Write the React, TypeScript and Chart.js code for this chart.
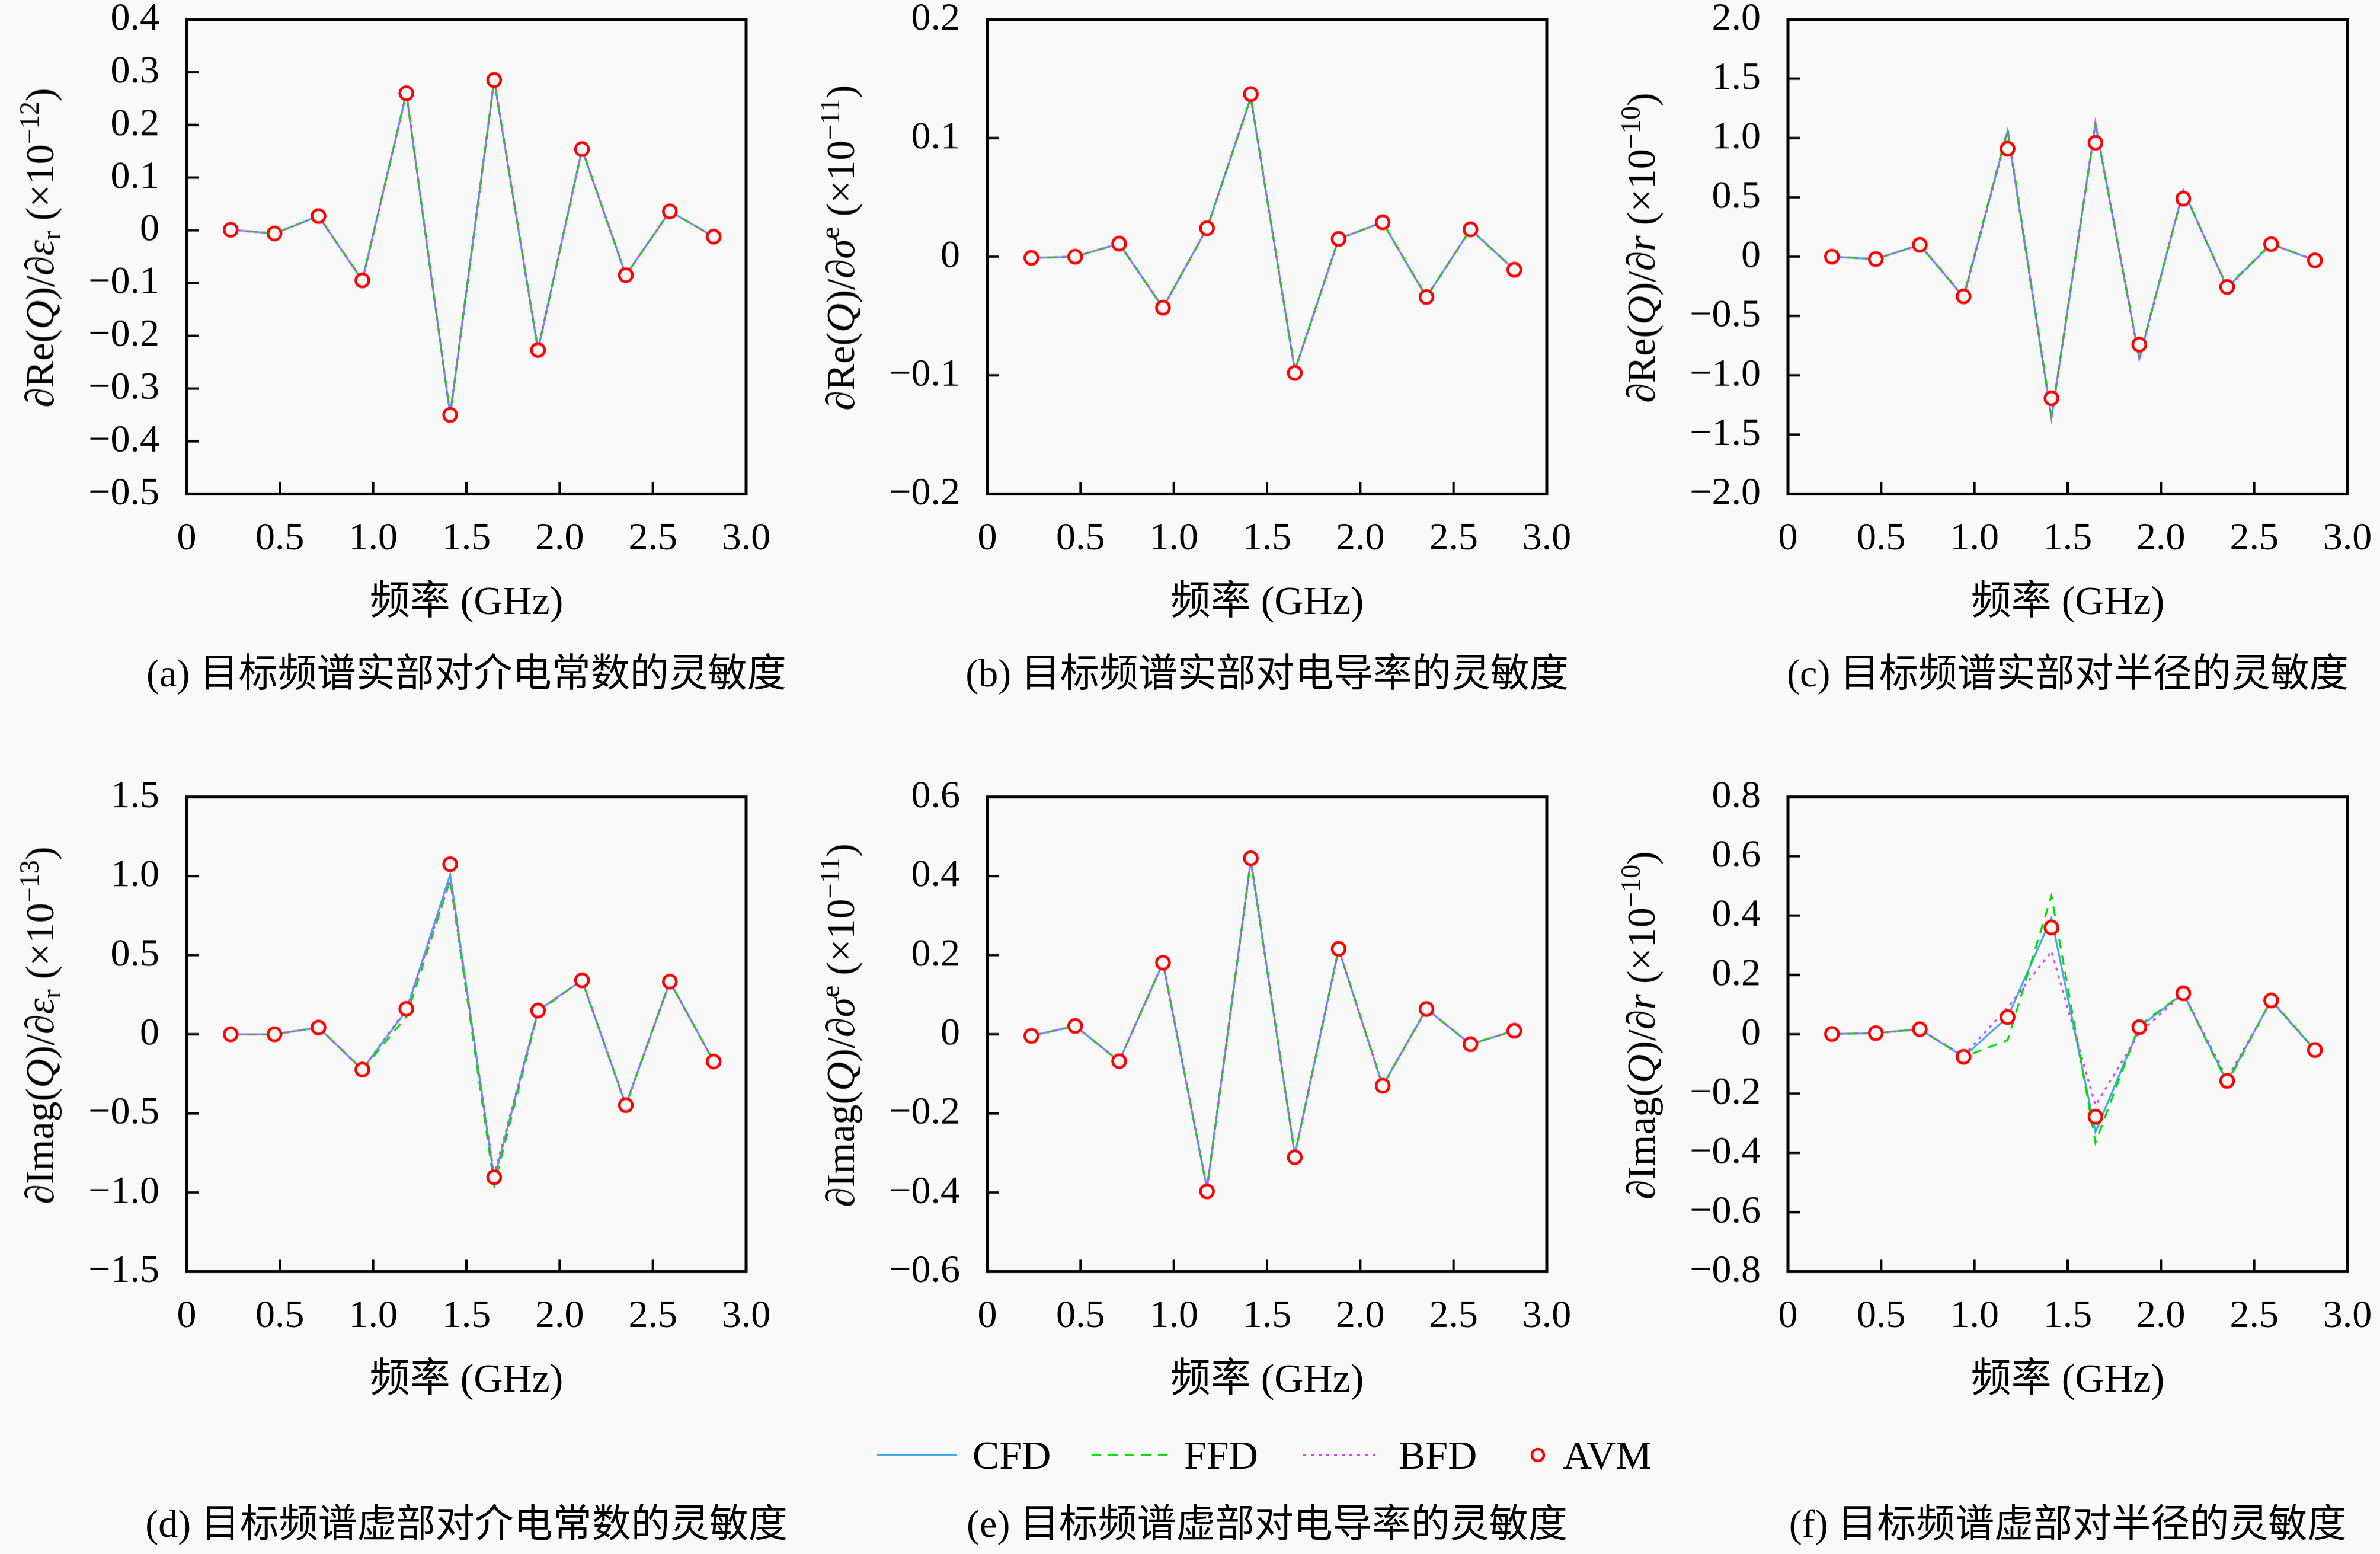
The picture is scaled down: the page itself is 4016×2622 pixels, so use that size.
import React, { useEffect, useRef } from "react";
import { Chart, registerables } from "chart.js";

Chart.register(...registerables);

// ---------------- data ----------------
const FREQ = [0.236, 0.471, 0.707, 0.942, 1.178, 1.413, 1.649, 1.884, 2.12, 2.355, 2.591, 2.826];
const X_TICKS = [0, 0.5, 1.0, 1.5, 2.0, 2.5, 3.0];

// (a) dRe(Q)/d eps_r  (x1e-12)
const A_CFD = [0.001, -0.006, 0.027, -0.095, 0.26, -0.35, 0.285, -0.227, 0.154, -0.085, 0.036, -0.012];
const A_FFD = [0.001, -0.006, 0.027, -0.095, 0.26, -0.35, 0.285, -0.227, 0.154, -0.085, 0.036, -0.012];
const A_BFD = [0.001, -0.006, 0.027, -0.095, 0.26, -0.35, 0.285, -0.227, 0.154, -0.085, 0.036, -0.012];
const A_AVM = [0.001, -0.006, 0.027, -0.095, 0.26, -0.35, 0.285, -0.227, 0.154, -0.085, 0.036, -0.012];
const A_YTICKS = [-0.5, -0.4, -0.3, -0.2, -0.1, 0, 0.1, 0.2, 0.3, 0.4];

// (b) dRe(Q)/d sigma_e  (x1e-11)
const B_CFD = [-0.001, 0.0, 0.011, -0.043, 0.024, 0.134, -0.096, 0.015, 0.029, -0.034, 0.023, -0.011];
const B_FFD = [-0.001, 0.0, 0.011, -0.043, 0.024, 0.134, -0.096, 0.015, 0.029, -0.034, 0.023, -0.011];
const B_BFD = [-0.001, 0.0, 0.011, -0.043, 0.024, 0.134, -0.096, 0.015, 0.029, -0.034, 0.023, -0.011];
const B_AVM = [-0.001, 0.0, 0.011, -0.043, 0.024, 0.137, -0.098, 0.015, 0.029, -0.034, 0.023, -0.011];
const B_YTICKS = [-0.2, -0.1, 0, 0.1, 0.2];

// (c) dRe(Q)/dr  (x1e-10)
const C_CFD = [0.0, -0.02, 0.1, -0.34, 1.06, -1.36, 1.12, -0.86, 0.56, -0.26, 0.106, -0.031];
const C_FFD = [0.0, -0.02, 0.1, -0.335, 1.075, -1.35, 1.11, -0.85, 0.555, -0.255, 0.11, -0.031];
const C_BFD = [0.0, -0.02, 0.1, -0.345, 1.05, -1.37, 1.13, -0.87, 0.565, -0.265, 0.105, -0.031];
const C_AVM = [0.0, -0.02, 0.1, -0.335, 0.91, -1.193, 0.961, -0.741, 0.489, -0.255, 0.106, -0.031];
const C_YTICKS = [-2.0, -1.5, -1.0, -0.5, 0, 0.5, 1.0, 1.5, 2.0];

// (d) dImag(Q)/d eps_r  (x1e-13)
const D_CFD = [0.0, 0.0, 0.043, -0.223, 0.15, 1.01, -0.915, 0.15, 0.341, -0.448, 0.333, -0.172];
const D_FFD = [0.0, 0.0, 0.043, -0.223, 0.11, 0.975, -0.955, 0.14, 0.345, -0.45, 0.335, -0.172];
const D_BFD = [0.0, 0.0, 0.043, -0.223, 0.16, 0.97, -0.89, 0.15, 0.34, -0.445, 0.33, -0.172];
const D_AVM = [0.0, 0.0, 0.043, -0.223, 0.161, 1.075, -0.903, 0.15, 0.341, -0.448, 0.333, -0.172];
const D_YTICKS = [-1.5, -1.0, -0.5, 0, 0.5, 1.0, 1.5];

// (e) dImag(Q)/d sigma_e  (x1e-11)
const E_CFD = [-0.004, 0.021, -0.068, 0.181, -0.39, 0.44, -0.305, 0.216, -0.13, 0.064, -0.025, 0.009];
const E_FFD = [-0.004, 0.021, -0.068, 0.181, -0.39, 0.44, -0.305, 0.216, -0.13, 0.064, -0.025, 0.009];
const E_BFD = [-0.004, 0.021, -0.068, 0.181, -0.39, 0.44, -0.305, 0.216, -0.13, 0.064, -0.025, 0.009];
const E_AVM = [-0.004, 0.021, -0.068, 0.181, -0.397, 0.445, -0.311, 0.216, -0.13, 0.064, -0.025, 0.009];
const E_YTICKS = [-0.6, -0.4, -0.2, 0, 0.2, 0.4, 0.6];

// (f) dImag(Q)/dr  (x1e-10)
const F_CFD = [0.001, 0.004, 0.017, -0.076, 0.058, 0.392, -0.329, 0.024, 0.138, -0.16, 0.114, -0.053];
const F_FFD = [0.001, 0.004, 0.017, -0.076, -0.02, 0.467, -0.365, 0.03, 0.138, -0.165, 0.116, -0.053];
const F_BFD = [0.001, 0.004, 0.017, -0.072, 0.09, 0.28, -0.24, 0.005, 0.138, -0.15, 0.112, -0.053];
const F_AVM = [0.001, 0.004, 0.017, -0.076, 0.058, 0.36, -0.278, 0.024, 0.138, -0.157, 0.114, -0.053];
const F_YTICKS = [-0.8, -0.6, -0.4, -0.2, 0, 0.2, 0.4, 0.6, 0.8];

const SERIES_NAMES = ["CFD", "FFD", "BFD", "AVM"];
const X_TITLE = "频率 (GHz)";
const CAPTIONS = [
  "(a) 目标频谱实部对介电常数的灵敏度",
  "(b) 目标频谱实部对电导率的灵敏度",
  "(c) 目标频谱实部对半径的灵敏度",
  "(d) 目标频谱虚部对介电常数的灵敏度",
  "(e) 目标频谱虚部对电导率的灵敏度",
  "(f) 目标频谱虚部对半径的灵敏度",
];

// ---------------- styles ----------------
const BG = "#f9f9f9";
const FONT = '"Liberation Serif", "Noto Sans CJK SC", serif';
const C_BLUE = "#3fa9f0";
const C_GREEN = "#00e000";
const C_MAGENTA = "#e040f0";
const C_RED = "#ff0000";

const PLOT_L0 = 315;
const COL_STEP = 1351;
const PLOT_W = 944;
const PLOT_T0 = 33;
const ROW_STEP = 1312;
const PLOT_H = 800;
const PAD_L = 240;
const PAD_T = 60;
const PAD_R = 80;
const PAD_B = 130;

const sup = (s: string) => (
  <span style={{ fontSize: "0.68em", verticalAlign: "0.55em", lineHeight: 0 }}>{s}</span>
);
const sub = (s: string) => (
  <span style={{ fontSize: "0.68em", verticalAlign: "-0.25em", lineHeight: 0 }}>{s}</span>
);
const it = (s: string) => <i>{s}</i>;

const Y_TITLES = [
  <>∂Re({it("Q")})/∂{it("ε")}{sub("r")} (×10{sup("−12")})</>,
  <>∂Re({it("Q")})/∂{it("σ")}{sup("e")} (×10{sup("−11")})</>,
  <>∂Re({it("Q")})/∂{it("r")} (×10{sup("−10")})</>,
  <>∂Imag({it("Q")})/∂{it("ε")}{sub("r")} (×10{sup("−13")})</>,
  <>∂Imag({it("Q")})/∂{it("σ")}{sup("e")} (×10{sup("−11")})</>,
  <>∂Imag({it("Q")})/∂{it("r")} (×10{sup("−10")})</>,
];

type PanelCfg = {
  col: number;
  row: number;
  yTicks: number[];
  cfd: number[];
  ffd: number[];
  bfd: number[];
  avm: number[];
};

const PANELS: PanelCfg[] = [
  { col: 0, row: 0, yTicks: A_YTICKS, cfd: A_CFD, ffd: A_FFD, bfd: A_BFD, avm: A_AVM },
  { col: 1, row: 0, yTicks: B_YTICKS, cfd: B_CFD, ffd: B_FFD, bfd: B_BFD, avm: B_AVM },
  { col: 2, row: 0, yTicks: C_YTICKS, cfd: C_CFD, ffd: C_FFD, bfd: C_BFD, avm: C_AVM },
  { col: 0, row: 1, yTicks: D_YTICKS, cfd: D_CFD, ffd: D_FFD, bfd: D_BFD, avm: D_AVM },
  { col: 1, row: 1, yTicks: E_YTICKS, cfd: E_CFD, ffd: E_FFD, bfd: E_BFD, avm: E_AVM },
  { col: 2, row: 1, yTicks: F_YTICKS, cfd: F_CFD, ffd: F_FFD, bfd: F_BFD, avm: F_AVM },
];

const fmt = (v: number) => {
  if (Math.abs(v) < 1e-9) return "0";
  return (v < 0 ? "\u2212" : "") + Math.abs(v).toFixed(1);
};

const framePlugin = {
  id: "frameTicks",
  afterDraw(chart: any) {
    const { ctx, chartArea } = chart;
    const { left, right, top, bottom } = chartArea;
    const xs = chart.scales.x;
    const ys = chart.scales.y;
    ctx.save();
    ctx.strokeStyle = "#000";
    ctx.lineWidth = 4;
    ctx.beginPath();
    xs.ticks.forEach((t: any) => {
      const px = xs.getPixelForValue(t.value);
      if (px <= left + 3 || px >= right - 3) return;
      ctx.moveTo(px, bottom);
      ctx.lineTo(px, bottom - 20);
    });
    ys.ticks.forEach((t: any) => {
      const py = ys.getPixelForValue(t.value);
      if (py <= top + 3 || py >= bottom - 3) return;
      ctx.moveTo(left, py);
      ctx.lineTo(left + 20, py);
    });
    ctx.stroke();
    ctx.lineWidth = 5;
    ctx.strokeRect(left, top, right - left, bottom - top);
    ctx.restore();
  },
};

function Panel({ cfg }: { cfg: PanelCfg }) {
  const ref = useRef<HTMLCanvasElement>(null);
  const plotL = PLOT_L0 + cfg.col * COL_STEP;
  const plotT = PLOT_T0 + cfg.row * ROW_STEP;
  const W = PLOT_W + PAD_L + PAD_R;
  const H = PLOT_H + PAD_T + PAD_B;

  useEffect(() => {
    const canvas = ref.current;
    if (!canvas) return;
    const pts = (arr: number[]) => FREQ.map((x, i) => ({ x, y: arr[i] }));
    const lineBase = { pointRadius: 0, borderWidth: 3.2, tension: 0, fill: false, showLine: true };
    const tickFont = { family: FONT, size: 66 };
    const chart = new Chart(canvas, {
      type: "scatter",
      data: {
        datasets: [
          { ...lineBase, label: SERIES_NAMES[0], data: pts(cfg.cfd), borderColor: C_BLUE, order: 3 },
          { ...lineBase, label: SERIES_NAMES[1], data: pts(cfg.ffd), borderColor: C_GREEN, borderDash: [16, 12], order: 2 },
          { ...lineBase, label: SERIES_NAMES[2], data: pts(cfg.bfd), borderColor: C_MAGENTA, borderDash: [5, 8], order: 1 },
          {
            label: SERIES_NAMES[3],
            data: pts(cfg.avm),
            showLine: false,
            pointStyle: "circle",
            pointRadius: 11,
            pointBorderWidth: 4.5,
            pointBorderColor: C_RED,
            pointBackgroundColor: BG,
            borderColor: C_RED,
            backgroundColor: BG,
            order: 0,
          },
        ],
      } as any,
      options: {
        animation: false,
        responsive: false,
        maintainAspectRatio: false,
        devicePixelRatio: 1,
        layout: { padding: { top: PAD_T, right: PAD_R, left: 0, bottom: 0 } },
        plugins: { legend: { display: false }, tooltip: { enabled: false } },
        scales: {
          x: {
            type: "linear",
            min: 0,
            max: 3,
            afterBuildTicks: (s: any) => {
              s.ticks = X_TICKS.map((v) => ({ value: v }));
            },
            afterFit: (s: any) => {
              s.height = PAD_B;
            },
            grid: { display: false, drawTicks: false },
            border: { display: false },
            ticks: {
              autoSkip: false,
              maxRotation: 0,
              padding: 36,
              color: "#000",
              font: tickFont,
              callback: (v: any) => fmt(Number(v)),
            },
          },
          y: {
            type: "linear",
            min: cfg.yTicks[0],
            max: cfg.yTicks[cfg.yTicks.length - 1],
            afterBuildTicks: (s: any) => {
              s.ticks = cfg.yTicks.map((v) => ({ value: v }));
            },
            afterFit: (s: any) => {
              s.width = PAD_L;
            },
            grid: { display: false, drawTicks: false },
            border: { display: false },
            ticks: {
              autoSkip: false,
              padding: 46,
              color: "#000",
              font: tickFont,
              callback: (v: any) => fmt(Number(v)),
            },
          },
        },
      } as any,
      plugins: [framePlugin],
    });
    // make the plotting area exactly PLOT_W x PLOT_H and place it at (plotL, plotT)
    for (let k = 0; k < 3; k++) {
      const ca = chart.chartArea;
      const dw = PLOT_W - (ca.right - ca.left);
      const dh = PLOT_H - (ca.bottom - ca.top);
      if (Math.abs(dw) < 0.5 && Math.abs(dh) < 0.5) break;
      chart.resize(chart.width + dw, chart.height + dh);
    }
    const ca = chart.chartArea;
    canvas.style.left = plotL - ca.left + "px";
    canvas.style.top = plotT - ca.top + "px";
    return () => chart.destroy();
  }, [cfg]);

  return (
    <canvas
      ref={ref}
      width={W}
      height={H}
      style={{ position: "absolute", left: plotL - PAD_L, top: plotT - PAD_T, width: W, height: H }}
    />
  );
}

const centered = (x: number, y: number, size: number, extra: any = {}) => ({
  position: "absolute" as const,
  left: x,
  top: y,
  transform: "translate(-50%, -50%)",
  fontFamily: FONT,
  fontSize: size,
  lineHeight: 1,
  whiteSpace: "nowrap" as const,
  color: "#000",
  ...extra,
});

function Legend() {
  const y = 2455;
  const lineItem = (x1: number, x2: number, color: string, dash?: string) => (
    <svg
      style={{ position: "absolute", left: x1, top: y - 10, overflow: "visible" }}
      width={x2 - x1}
      height={20}
    >
      <line x1={0} y1={10} x2={x2 - x1} y2={10} stroke={color} strokeWidth={3.2} strokeDasharray={dash} />
    </svg>
  );
  const text = (x: number, s: string) => (
    <div
      style={{
        position: "absolute",
        left: x,
        top: y - 34,
        fontFamily: FONT,
        fontSize: 68,
        lineHeight: 1,
        whiteSpace: "nowrap",
        color: "#000",
      }}
    >
      {s}
    </div>
  );
  return (
    <>
      {lineItem(1480, 1614, C_BLUE)}
      {text(1641, SERIES_NAMES[0])}
      {lineItem(1842, 1971, C_GREEN, "16 12")}
      {text(1998, SERIES_NAMES[1])}
      {lineItem(2199, 2329, C_MAGENTA, "5 8")}
      {text(2360, SERIES_NAMES[2])}
      <svg style={{ position: "absolute", left: 2580, top: y - 15 }} width={30} height={30}>
        <circle cx={15} cy={15} r={10} stroke={C_RED} strokeWidth={4.5} fill={BG} />
      </svg>
      {text(2637, SERIES_NAMES[3])}
    </>
  );
}

export default function App() {
  useEffect(() => {
    document.body.style.margin = "0";
    document.body.style.background = BG;
  }, []);
  return (
    <div
      style={{
        position: "absolute",
        left: 0,
        top: 0,
        width: 4016,
        height: 2622,
        background: BG,
        overflow: "hidden",
      }}
    >
      {PANELS.map((p, i) => (
        <Panel key={i} cfg={p} />
      ))}
      {PANELS.map((p, i) => {
        const plotL = PLOT_L0 + p.col * COL_STEP;
        const plotT = PLOT_T0 + p.row * ROW_STEP;
        const cx = plotL + PLOT_W / 2;
        return (
          <React.Fragment key={"t" + i}>
            <div
              style={centered(plotL - 248, plotT + PLOT_H / 2 - 15, 68, {
                transform: "translate(-50%, -50%) rotate(-90deg)",
              })}
            >
              {Y_TITLES[i]}
            </div>
            <div style={centered(cx, plotT + 980, 68)}>{X_TITLE}</div>
            <div style={centered(cx, p.row === 0 ? 1136 : 2571, 66)}>{CAPTIONS[i]}</div>
          </React.Fragment>
        );
      })}
      <Legend />
    </div>
  );
}
